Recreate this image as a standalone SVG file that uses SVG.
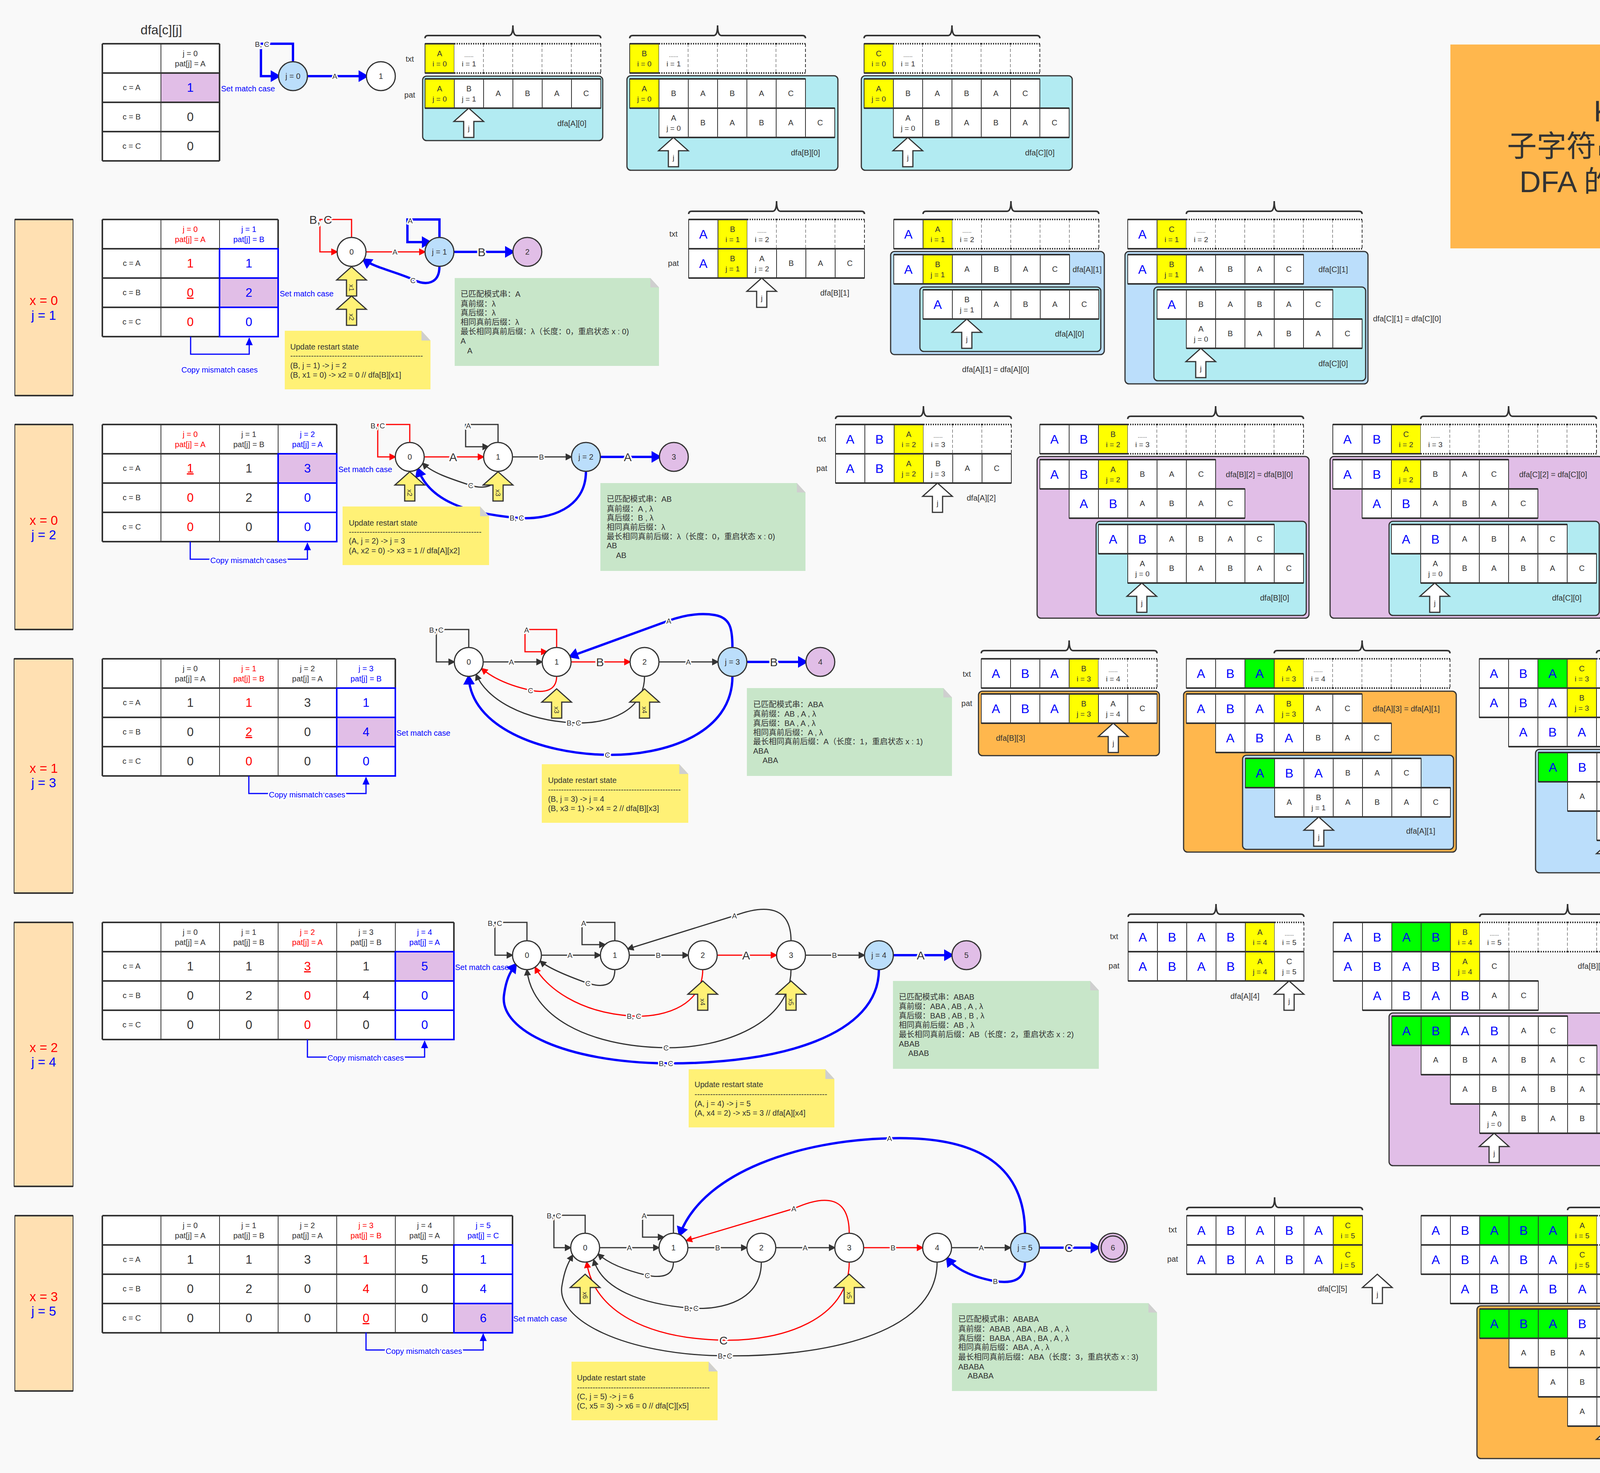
<svg xmlns="http://www.w3.org/2000/svg" xmlns:xlink="http://www.w3.org/1999/xlink" width="5250" height="3772" viewBox="0 0 5250 3772">
<style>
text{font-family:"Liberation Sans",Arial,"Noto Sans CJK SC",sans-serif;fill:#333}
.s{font-size:20px;text-anchor:middle}
.i{font-size:19px;text-anchor:middle}
.dt{font-size:14px;text-anchor:middle}
.b{font-size:32px;text-anchor:middle;fill:#00f}
.v{font-size:31px;text-anchor:middle}
.nl{font-size:20px;text-anchor:middle}
.el{font-size:19px;text-anchor:middle;stroke:#fff;stroke-width:7px;paint-order:stroke;stroke-linejoin:round}
.eL{font-size:30px;text-anchor:middle;stroke:#fff;stroke-width:8px;paint-order:stroke;stroke-linejoin:round}
.bl{font-size:20px;fill:#00f}
.blc{font-size:20px;fill:#00f;text-anchor:middle;stroke:#fff;stroke-width:7px;paint-order:stroke}
.nt{font-size:20px}
.sx{font-size:33px;text-anchor:middle}
.yl{font-size:17px;text-anchor:middle}
.ttl{font-size:76px;text-anchor:middle}
.cd{font-size:19px}
.lt{font-size:20px;text-anchor:middle}
.r{fill:#f00}
.u{fill:#00f}
.nd{fill:#fff;stroke:#333;stroke-width:3}
.nb{fill:#BBDEFB;stroke:#333;stroke-width:3}
.np{fill:#E1BEE7;stroke:#333;stroke-width:3}
.ct{stroke:#333;stroke-width:3}
.tk{fill:none;stroke:#333;stroke-width:4}
.tl{fill:none;stroke:#333;stroke-width:2}
.tb{fill:none;stroke:#00f;stroke-width:4}
.eK{fill:none;stroke:#333;stroke-width:3;marker-end:url(#aK)}
.eR{fill:none;stroke:#f00;stroke-width:3;marker-end:url(#aR)}
.eB{fill:none;stroke:#00f;stroke-width:6;marker-end:url(#aB)}
.cm{fill:none;stroke:#00f;stroke-width:3;marker-end:url(#aS)}
.side{fill:#FFE0B2;stroke:#333;stroke-width:2}
.yn{fill:#FFF176}
.gn{fill:#C8E6C9}
.fold{fill:#cfcfcf}
</style>
<defs>
<marker id="aK" viewBox="0 0 18 18" markerWidth="18" markerHeight="18" refX="15" refY="9" orient="auto" markerUnits="userSpaceOnUse"><path d="M0,0L18,9L0,18z" fill="#333"/></marker>
<marker id="aR" viewBox="0 0 18 18" markerWidth="18" markerHeight="18" refX="15" refY="9" orient="auto" markerUnits="userSpaceOnUse"><path d="M0,0L18,9L0,18z" fill="#f00"/></marker>
<marker id="aB" viewBox="0 0 26 30" markerWidth="26" markerHeight="30" refX="20" refY="15" orient="auto" markerUnits="userSpaceOnUse"><path d="M0,0L26,15L0,30z" fill="#00f"/></marker>
<marker id="aS" viewBox="0 0 20 18" markerWidth="20" markerHeight="18" refX="18" refY="9" orient="auto" markerUnits="userSpaceOnUse"><path d="M0,0L20,9L0,18z" fill="#00f"/></marker>
<g id="S"><rect width="75" height="75" fill="#fff" stroke="#333" stroke-width="2"/><path d="M0,0H75M0,75H75" stroke="#333" stroke-width="4"/></g>
<g id="SY"><rect width="75" height="75" fill="#ff0" stroke="#333" stroke-width="2"/><path d="M0,0H75M0,75H75" stroke="#333" stroke-width="4"/></g>
<g id="SG"><rect width="75" height="75" fill="#0f0" stroke="#333" stroke-width="2"/><path d="M0,0H75M0,75H75" stroke="#333" stroke-width="4"/></g>
<g id="D"><rect width="75" height="75" fill="#fff"/><path d="M0,0H75M0,75H75" stroke="#333" stroke-width="4" stroke-dasharray="3 3"/><path d="M75,0V75" stroke="#333" stroke-width="2" stroke-dasharray="8 5"/></g>
<g id="R6"><rect width="450" height="75" fill="#fff" stroke="#333" stroke-width="2"/><path d="M75,0V75M150,0V75M225,0V75M300,0V75M375,0V75" stroke="#333" stroke-width="2"/><path d="M0,0H450M0,75H450" stroke="#333" stroke-width="4"/></g>
<g id="T1"><text class="s" x="412.5" y="44">C</text></g>
<g id="T2"><text class="s" x="337.5" y="44">A</text><use href="#T1"/></g>
<g id="T3"><text class="s" x="262.5" y="44">B</text><use href="#T2"/></g>
<g id="T4"><text class="s" x="187.5" y="44">A</text><use href="#T3"/></g>
<g id="T5"><text class="s" x="112.5" y="44">B</text><use href="#T4"/></g>
<g id="T6"><text class="s" x="37.5" y="44">A</text><use href="#T5"/></g>
<g id="B1"><text class="b" x="37.5" y="49">A</text></g>
<g id="B2"><use href="#B1"/><text class="b" x="112.5" y="49">B</text></g>
<g id="B3"><use href="#B2"/><text class="b" x="187.5" y="49">A</text></g>
<g id="B4"><use href="#B3"/><text class="b" x="262.5" y="49">B</text></g>
<g id="B5"><use href="#B4"/><text class="b" x="337.5" y="49">A</text></g>
<g id="J0"><text class="s" x="37.5" y="32">A</text><text class="i" x="37.5" y="58">j = 0</text></g>
<path id="UPs" d="M0,0L38,34H13V75H-13V34H-38Z"/>
<g id="UP"><use href="#UPs" fill="#fff" stroke="#333" stroke-width="3"/><text class="i" x="0" y="58">j</text></g>
<g id="YA"><use href="#UPs" fill="#FFF176" stroke="#333" stroke-width="3"/></g>
<path id="BR" d="M0,33Q0,26 8,26H215Q225,26 225,0Q225,26 235,26H442Q450,26 450,33" fill="none" stroke="#333" stroke-width="4"/>
<g id="CL"><text class="s" x="75" y="119">c = A</text><text class="s" x="75" y="194">c = B</text><text class="s" x="75" y="269">c = C</text></g>
</defs>
<rect width="5250" height="3772" fill="#f9f9f9"/>

<!-- ===== Title & code ===== -->
<g id="title">
<path d="M3713,114H4588L4611,139V636H3713Z" fill="#FFB74D"/>
<path class="fold" d="M4588,114V139H4611Z"/>
<text class="ttl" x="4162" y="311">KMP</text>
<text class="ttl" x="4162" y="401">子字符串查找算法</text>
<text class="ttl" x="4162" y="492">DFA 的构造过程</text>
</g>
<g id="code">
<path class="gn" d="M4158,710H4738L4761,734V1088H4158Z"/>
<path class="fold" d="M4738,710V734H4761Z"/>
<text class="cd">
<tspan x="4178" y="746">public KMP(char[] pattern, int R) {</tspan>
<tspan x="4205" y="770">this.R = R;</tspan>
<tspan x="4205" y="794">this.m = pattern.length;</tspan>
<tspan x="4205" y="818">// build DFA from pattern</tspan>
<tspan x="4205" y="842">int m = pattern.length;</tspan>
<tspan x="4205" y="866">dfa = new int[R][m];</tspan>
<tspan x="4205" y="890">dfa[pattern[0]][0] = 1;</tspan>
<tspan x="4205" y="914">for (int x = 0, j = 1; j &lt; m; j++) {</tspan>
<tspan x="4232" y="938">for (int c = 0; c &lt; R; c++)</tspan>
<tspan x="4259" y="962">dfa[c][j] = dfa[c][x];</tspan><tspan x="4468" y="962">// Copy mismatch cases.</tspan>
<tspan x="4232" y="986">dfa[pattern[j]][j] = j+1;</tspan><tspan x="4468" y="986">// Set match case.</tspan>
<tspan x="4232" y="1010">x = dfa[pattern[j]][x];</tspan><tspan x="4468" y="1010">// Update restart state.</tspan>
<tspan x="4205" y="1034">}</tspan>
<tspan x="4178" y="1058">}</tspan>
</text>
</g>

<!-- ===== ROW 0 ===== -->
<text x="413" y="88" style="font-size:33px;text-anchor:middle">dfa[c][j]</text>
<g id="r0-table" transform="translate(262,112)">
<rect width="300" height="300" fill="#fff"/>
<rect x="150" y="75" width="150" height="75" fill="#E1BEE7"/>
<path class="tl" d="M150,0V300"/>
<path class="tk" d="M0,0H300M0,75H300M0,150H300M0,225H300M0,300H300M0,0V300M300,0V300"/>
<text class="s" x="225" y="32">j = 0</text><text class="s" x="225" y="58">pat[j] = A</text>
<use href="#CL"/>
<text class="v u" x="225" y="123">1</text><text class="v" x="225" y="198">0</text><text class="v" x="225" y="273">0</text>
</g>
<text class="bl" x="566" y="234">Set match case</text>
<g id="r0-edges">
<path class="eB" d="M787,195H938"/>
<path class="eB" d="M750,158V112H668V195H713"/>
<text class="el" x="857" y="202">A</text>
<text class="el" x="671" y="120">B, C</text>
</g>
<g id="r0-n0"><circle class="nb" cx="750" cy="195" r="37"/><text class="nl" x="750" y="202">j = 0</text></g>
<g id="r0-n1"><circle class="nd" cx="975" cy="195" r="37"/><text class="nl" x="975" y="202">1</text></g>

<g id="r0-g1">
<use href="#BR" x="1088" y="65"/>
<text class="lt" x="1049" y="158">txt</text><text class="lt" x="1049" y="250">pat</text>
<g transform="translate(1088,112)">
<use href="#SY"/><use href="#D" x="75"/><use href="#D" x="150"/><use href="#D" x="225"/><use href="#D" x="300"/><use href="#D" x="375"/>
<text class="s" x="37.5" y="32">A</text><text class="i" x="37.5" y="58">i = 0</text>
<text class="dt" x="112.5" y="34">......</text><text class="i" x="112.5" y="58">i = 1</text>
</g>
<rect class="ct" x="1082" y="195" width="461" height="165" rx="10" fill="#B2EBF2"/>
<g transform="translate(1088,202)"><use href="#R6"/><use href="#SY"/><use href="#J0"/><text class="s" x="112.5" y="32">B</text><text class="i" x="112.5" y="58">j = 1</text><use href="#T4"/></g>
<use href="#UP" x="1200" y="277"/>
<text class="lt" x="1464" y="323">dfa[A][0]</text>
</g>
<g id="r0-g2">
<use href="#BR" x="1612" y="65"/>
<g transform="translate(1612,112)">
<use href="#SY"/><use href="#D" x="75"/><use href="#D" x="150"/><use href="#D" x="225"/><use href="#D" x="300"/><use href="#D" x="375"/>
<text class="s" x="37.5" y="32">B</text><text class="i" x="37.5" y="58">i = 0</text>
<text class="dt" x="112.5" y="34">......</text><text class="i" x="112.5" y="58">i = 1</text>
</g>
<rect class="ct" x="1605" y="194" width="540" height="242" rx="10" fill="#B2EBF2"/>
<g transform="translate(1612,202)"><use href="#R6"/><use href="#SY"/><use href="#J0"/><use href="#T5"/></g>
<g transform="translate(1687,277)"><use href="#R6"/><use href="#J0"/><use href="#T5"/></g>
<use href="#UP" x="1724" y="352"/>
<text class="lt" x="2062" y="398">dfa[B][0]</text>
</g>
<g id="r0-g3">
<use href="#BR" x="2212" y="65"/>
<g transform="translate(2212,112)">
<use href="#SY"/><use href="#D" x="75"/><use href="#D" x="150"/><use href="#D" x="225"/><use href="#D" x="300"/><use href="#D" x="375"/>
<text class="s" x="37.5" y="32">C</text><text class="i" x="37.5" y="58">i = 0</text>
<text class="dt" x="112.5" y="34">......</text><text class="i" x="112.5" y="58">i = 1</text>
</g>
<rect class="ct" x="2205" y="194" width="540" height="242" rx="10" fill="#B2EBF2"/>
<g transform="translate(2212,202)"><use href="#R6"/><use href="#SY"/><use href="#J0"/><use href="#T5"/></g>
<g transform="translate(2287,277)"><use href="#R6"/><use href="#J0"/><use href="#T5"/></g>
<use href="#UP" x="2324" y="352"/>
<text class="lt" x="2662" y="398">dfa[C][0]</text>
</g>

<!-- ===== ROW 1 ===== -->
<g id="r1-side"><rect class="side" x="38" y="562" width="149" height="451"/><path class="tk" d="M38,562H187M38,1013H187"/><text class="sx r" x="112" y="781">x = 0</text><text class="sx u" x="112" y="819">j = 1</text></g>
<g id="r1-table" transform="translate(262,562)">
<rect width="450" height="300" fill="#fff"/>
<rect x="300" y="150" width="150" height="75" fill="#E1BEE7"/>
<path class="tl" d="M150,0V300M300,0V300"/>
<path class="tk" d="M0,0H450M0,75H450M0,150H450M0,225H450M0,300H450M0,0V300M450,0V300"/>
<path class="tb" d="M300,75H450V300H300ZM300,150H450M300,225H450"/>
<use href="#CL"/>
<text class="s r" x="225" y="32">j = 0</text><text class="s r" x="225" y="58">pat[j] = A</text>
<text class="s u" x="375" y="32">j = 1</text><text class="s u" x="375" y="58">pat[j] = B</text>
<text class="v r" x="225" y="123">1</text><text class="v u" x="375" y="123">1</text>
<text class="v r" x="225" y="198" text-decoration="underline">0</text><text class="v u" x="375" y="198">2</text>
<text class="v r" x="225" y="273">0</text><text class="v u" x="375" y="273">0</text>
</g>
<text class="bl" x="716" y="759">Set match case</text>
<path class="cm" d="M488,862V907H638V866"/>
<text class="blc" x="562" y="954">Copy mismatch cases</text>
<g id="r1-edges">
<path class="eR" d="M937,645H1088"/>
<path class="eB" d="M1162,645H1313"/>
<path class="eR" d="M900,608V562H819V645H863"/>
<path class="eB" d="M1125,608V562H1043V620H1100"/>
<path class="eB" d="M1125,682C1125,728 1090,732 1058,716C1010,695 960,685 931,665"/>
<text class="el" x="1011" y="652">A</text>
<text class="eL" x="1233" y="656">B</text>
<text class="eL" x="821" y="573">B, C</text>
<text class="el" x="1050" y="572">A</text>
<text class="el" x="1057" y="725">C</text>
</g>
<g id="r1-n0"><circle class="nd" cx="900" cy="645" r="37"/><text class="nl" x="900" y="652">0</text></g>
<g id="r1-n1"><circle class="nb" cx="1125" cy="645" r="37"/><text class="nl" x="1125" y="652">j = 1</text></g>
<g id="r1-n2"><circle class="np" cx="1350" cy="645" r="37"/><text class="nl" x="1350" y="652">2</text></g>
<g id="r1-x"><use href="#YA" x="900" y="683"/><text class="yl" transform="translate(894,737) rotate(90)">x1</text><use href="#YA" x="900" y="758"/><text class="yl" transform="translate(894,812) rotate(90)">x2</text></g>
<g id="r1-note1"><path class="yn" d="M729,847H1079L1102,872V997H729Z"/><path class="fold" d="M1079,847V872H1102Z"/>
<text class="nt" x="743" y="895">Update restart state</text><text class="nt" x="743" y="918">---------------------------------------------------</text><text class="nt" x="743" y="943">(B, j = 1) -&gt; j = 2</text><text class="nt" x="743" y="967">(B, x1 = 0) -&gt; x2 = 0 // dfa[B][x1]</text></g>
<g id="r1-note2"><path class="gn" d="M1164,712H1665L1687,736V937H1164Z"/><path class="fold" d="M1665,712V736H1687Z"/>
<text class="nt" x="1179" y="760">已匹配模式串：A</text><text class="nt" x="1179" y="785">真前缀：λ</text><text class="nt" x="1179" y="808">真后缀：λ</text><text class="nt" x="1179" y="832">相同真前后缀：λ</text><text class="nt" x="1179" y="856">最长相同真前后缀：λ（长度：0，重启状态 x : 0)</text><text class="nt" x="1179" y="880">A</text><text class="nt" x="1196" y="905">A</text></g>

<g id="r1-g1">
<use href="#BR" x="1763" y="515"/>
<text class="lt" x="1724" y="606">txt</text><text class="lt" x="1724" y="681">pat</text>
<g transform="translate(1763,562)">
<use href="#S"/><use href="#SY" x="75"/><use href="#D" x="150"/><use href="#D" x="225"/><use href="#D" x="300"/><use href="#D" x="375"/>
<use href="#B1"/><text class="s" x="112.5" y="32">B</text><text class="i" x="112.5" y="58">i = 1</text>
<text class="dt" x="187.5" y="34">......</text><text class="i" x="187.5" y="58">i = 2</text>
</g>
<g transform="translate(1763,637)"><use href="#R6"/><use href="#SY" x="75"/><use href="#B1"/><text class="s" x="112.5" y="32">B</text><text class="i" x="112.5" y="58">j = 1</text><text class="s" x="187.5" y="32">A</text><text class="i" x="187.5" y="58">j = 2</text><use href="#T3"/></g>
<use href="#UP" x="1950" y="712"/>
<text class="lt" x="2137" y="757">dfa[B][1]</text>
</g>
<g id="r1-g2">
<use href="#BR" x="2363" y="515"/>
<g transform="translate(2288,562)">
<use href="#S"/><use href="#SY" x="75"/><use href="#D" x="150"/><use href="#D" x="225"/><use href="#D" x="300"/><use href="#D" x="375"/><use href="#D" x="450"/>
<use href="#B1"/><text class="s" x="112.5" y="32">A</text><text class="i" x="112.5" y="58">i = 1</text>
<text class="dt" x="187.5" y="34">......</text><text class="i" x="187.5" y="58">i = 2</text>
</g>
<rect class="ct" x="2280" y="644" width="547" height="264" rx="10" fill="#BBDEFB"/>
<g transform="translate(2288,652)"><use href="#R6"/><use href="#SY" x="75"/><use href="#B1"/><text class="s" x="112.5" y="32">B</text><text class="i" x="112.5" y="58">j = 1</text><use href="#T4"/></g>
<text class="lt" x="2783" y="697">dfa[A][1]</text>
<rect class="ct" x="2355" y="735" width="463" height="165" rx="10" fill="#B2EBF2"/>
<g transform="translate(2363,742)"><use href="#R6"/><use href="#B1"/><text class="s" x="112.5" y="32">B</text><text class="i" x="112.5" y="58">j = 1</text><use href="#T4"/></g>
<use href="#UP" x="2475" y="817"/>
<text class="lt" x="2738" y="862">dfa[A][0]</text>
<text class="lt" x="2549" y="953">dfa[A][1] = dfa[A][0]</text>
</g>
<g id="r1-g3">
<use href="#BR" x="3037" y="515"/>
<g transform="translate(2887,562)">
<use href="#S"/><use href="#SY" x="75"/><use href="#D" x="150"/><use href="#D" x="225"/><use href="#D" x="300"/><use href="#D" x="375"/><use href="#D" x="450"/><use href="#D" x="525"/>
<use href="#B1"/><text class="s" x="112.5" y="32">C</text><text class="i" x="112.5" y="58">i = 1</text>
<text class="dt" x="187.5" y="34">......</text><text class="i" x="187.5" y="58">i = 2</text>
</g>
<rect class="ct" x="2880" y="644" width="622" height="339" rx="10" fill="#BBDEFB"/>
<g transform="translate(2887,652)"><use href="#R6"/><use href="#SY" x="75"/><use href="#B1"/><text class="s" x="112.5" y="32">B</text><text class="i" x="112.5" y="58">j = 1</text><use href="#T4"/></g>
<text class="lt" x="3413" y="697">dfa[C][1]</text>
<rect class="ct" x="2954" y="735" width="542" height="240" rx="10" fill="#B2EBF2"/>
<g transform="translate(2962,742)"><use href="#R6"/><use href="#B1"/><use href="#T5"/></g>
<g transform="translate(3037,817)"><use href="#R6"/><use href="#J0"/><use href="#T5"/></g>
<use href="#UP" x="3074" y="892"/>
<text class="lt" x="3413" y="938">dfa[C][0]</text>
<text x="3515" y="823" style="font-size:20px">dfa[C][1] = dfa[C][0]</text>
</g>

<!-- ===== ROW 2 ===== -->
<g id="r2-side"><rect class="side" x="38" y="1087" width="149" height="525"/><path class="tk" d="M38,1087H187M38,1612H187"/><text class="sx r" x="112" y="1344">x = 0</text><text class="sx u" x="112" y="1381">j = 2</text></g>
<g id="r2-table" transform="translate(262,1087)">
<rect width="600" height="300" fill="#fff"/>
<rect x="450" y="75" width="150" height="75" fill="#E1BEE7"/>
<path class="tl" d="M150,0V300M300,0V300M450,0V300"/>
<path class="tk" d="M0,0H600M0,75H600M0,150H600M0,225H600M0,300H600M0,0V300M600,0V300"/>
<path class="tb" d="M450,75H600V300H450ZM450,150H600M450,225H600"/>
<use href="#CL"/>
<text class="s r" x="225" y="32">j = 0</text><text class="s r" x="225" y="58">pat[j] = A</text>
<text class="s" x="375" y="32">j = 1</text><text class="s" x="375" y="58">pat[j] = B</text>
<text class="s u" x="525" y="32">j = 2</text><text class="s u" x="525" y="58">pat[j] = A</text>
<text class="v r" x="225" y="123" text-decoration="underline">1</text><text class="v" x="375" y="123">1</text><text class="v u" x="525" y="123">3</text>
<text class="v r" x="225" y="198">0</text><text class="v" x="375" y="198">2</text><text class="v u" x="525" y="198">0</text>
<text class="v r" x="225" y="273">0</text><text class="v" x="375" y="273">0</text><text class="v u" x="525" y="273">0</text>
</g>
<text class="bl" x="866" y="1209">Set match case</text>
<path class="cm" d="M487,1387V1432H787V1391"/>
<text class="blc" x="636" y="1442">Copy mismatch cases</text>
<g id="r2-edges">
<path class="eR" d="M1086,1170H1238"/>
<path class="eK" d="M1312,1170H1463"/>
<path class="eB" d="M1537,1170H1688"/>
<path class="eR" d="M1049,1133V1087H967V1170H1012"/>
<path class="eK" d="M1275,1133V1087H1192V1144H1250"/>
<path class="eK" d="M1275,1207C1275,1250 1235,1252 1205,1243C1150,1225 1105,1210 1082,1186"/>
<path class="eB" d="M1500,1207C1500,1300 1410,1333 1323,1326C1200,1315 1100,1285 1070,1201"/>
<text class="eL" x="1160" y="1181">A</text>
<text class="el" x="1386" y="1177">B</text>
<text class="eL" x="1607" y="1181">A</text>
<text class="el" x="967" y="1097">B, C</text>
<text class="el" x="1199" y="1097">A</text>
<text class="el" x="1205" y="1250">C</text>
<text class="el" x="1323" y="1333">B, C</text>
</g>
<g id="r2-n0"><circle class="nd" cx="1049" cy="1170" r="37"/><text class="nl" x="1049" y="1177">0</text></g>
<g id="r2-n1"><circle class="nd" cx="1275" cy="1170" r="37"/><text class="nl" x="1275" y="1177">1</text></g>
<g id="r2-n2"><circle class="nb" cx="1500" cy="1170" r="37"/><text class="nl" x="1500" y="1177">j = 2</text></g>
<g id="r2-n3"><circle class="np" cx="1725" cy="1170" r="37"/><text class="nl" x="1725" y="1177">3</text></g>
<g id="r2-x"><use href="#YA" x="1049" y="1208"/><text class="yl" transform="translate(1043,1262) rotate(90)">x2</text><use href="#YA" x="1275" y="1208"/><text class="yl" transform="translate(1269,1262) rotate(90)">x3</text></g>
<g id="r2-note1"><path class="yn" d="M877,1297H1229L1252,1322V1447H877Z"/><path class="fold" d="M1229,1297V1322H1252Z"/>
<text class="nt" x="893" y="1346">Update restart state</text><text class="nt" x="893" y="1369">---------------------------------------------------</text><text class="nt" x="893" y="1392">(A, j = 2) -&gt; j = 3</text><text class="nt" x="893" y="1417">(A, x2 = 0) -&gt; x3 = 1 // dfa[A][x2]</text></g>
<g id="r2-note2"><path class="gn" d="M1537,1237H2040L2062,1261V1462H1537Z"/><path class="fold" d="M2040,1237V1261H2062Z"/>
<text class="nt" x="1553" y="1285">已匹配模式串：AB</text><text class="nt" x="1553" y="1310">真前缀：A , λ</text><text class="nt" x="1553" y="1333">真后缀：B , λ</text><text class="nt" x="1553" y="1357">相同真前后缀：λ</text><text class="nt" x="1553" y="1381">最长相同真前后缀：λ（长度：0，重启状态 x : 0)</text><text class="nt" x="1553" y="1404">AB</text><text class="nt" x="1577" y="1429">AB</text></g>

<g id="r2-g1">
<use href="#BR" x="2139" y="1040"/>
<text class="lt" x="2104" y="1131">txt</text><text class="lt" x="2104" y="1206">pat</text>
<g transform="translate(2139,1087)">
<use href="#S"/><use href="#S" x="75"/><use href="#SY" x="150"/><use href="#D" x="225"/><use href="#D" x="300"/><use href="#D" x="375"/>
<use href="#B2"/><text class="s" x="187.5" y="32">A</text><text class="i" x="187.5" y="58">i = 2</text>
<text class="dt" x="262.5" y="34">......</text><text class="i" x="262.5" y="58">i = 3</text>
</g>
<g transform="translate(2139,1162)"><use href="#R6"/><use href="#SY" x="150"/><use href="#B2"/><text class="s" x="187.5" y="32">A</text><text class="i" x="187.5" y="58">j = 2</text><text class="s" x="262.5" y="32">B</text><text class="i" x="262.5" y="58">j = 3</text><use href="#T2"/></g>
<use href="#UP" x="2400" y="1237"/>
<text class="lt" x="2512" y="1282">dfa[A][2]</text>
</g>
<g id="r2-g2">
<use href="#BR" x="2887" y="1040"/>
<g transform="translate(2662,1087)">
<use href="#S"/><use href="#S" x="75"/><use href="#SY" x="150"/><use href="#D" x="225"/><use href="#D" x="300"/><use href="#D" x="375"/><use href="#D" x="450"/><use href="#D" x="525"/><use href="#D" x="600"/>
<use href="#B2"/><text class="s" x="187.5" y="32">B</text><text class="i" x="187.5" y="58">i = 2</text>
<text class="dt" x="262.5" y="34">......</text><text class="i" x="262.5" y="58">i = 3</text>
</g>
<rect class="ct" x="2655" y="1169" width="696" height="414" rx="10" fill="#E1BEE7"/>
<g transform="translate(2662,1177)"><use href="#R6"/><use href="#SY" x="150"/><use href="#B2"/><text class="s" x="187.5" y="32">A</text><text class="i" x="187.5" y="58">j = 2</text><use href="#T3"/></g>
<text class="lt" x="3224" y="1222">dfa[B][2] = dfa[B][0]</text>
<g transform="translate(2737,1252)"><use href="#R6"/><use href="#B2"/><use href="#T4"/></g>
<rect class="ct" x="2806" y="1335" width="538" height="241" rx="10" fill="#B2EBF2"/>
<g transform="translate(2812,1343)"><use href="#R6"/><use href="#B2"/><use href="#T4"/></g>
<g transform="translate(2887,1418)"><use href="#R6"/><use href="#J0"/><use href="#T5"/></g>
<use href="#UP" x="2923" y="1493"/>
<text class="lt" x="3263" y="1538">dfa[B][0]</text>
</g>
<g id="r2-g3">
<use href="#BR" x="3637" y="1040"/>
<g transform="translate(3412,1087)">
<use href="#S"/><use href="#S" x="75"/><use href="#SY" x="150"/><use href="#D" x="225"/><use href="#D" x="300"/><use href="#D" x="375"/><use href="#D" x="450"/><use href="#D" x="525"/><use href="#D" x="600"/>
<use href="#B2"/><text class="s" x="187.5" y="32">C</text><text class="i" x="187.5" y="58">i = 2</text>
<text class="dt" x="262.5" y="34">......</text><text class="i" x="262.5" y="58">i = 3</text>
</g>
<rect class="ct" x="3405" y="1169" width="698" height="414" rx="10" fill="#E1BEE7"/>
<g transform="translate(3412,1177)"><use href="#R6"/><use href="#SY" x="150"/><use href="#B2"/><text class="s" x="187.5" y="32">A</text><text class="i" x="187.5" y="58">j = 2</text><use href="#T3"/></g>
<text class="lt" x="3976" y="1222">dfa[C][2] = dfa[C][0]</text>
<g transform="translate(3487,1252)"><use href="#R6"/><use href="#B2"/><use href="#T4"/></g>
<rect class="ct" x="3556" y="1335" width="538" height="241" rx="10" fill="#B2EBF2"/>
<g transform="translate(3562,1343)"><use href="#R6"/><use href="#B2"/><use href="#T4"/></g>
<g transform="translate(3637,1418)"><use href="#R6"/><use href="#J0"/><use href="#T5"/></g>
<use href="#UP" x="3673" y="1493"/>
<text class="lt" x="4011" y="1538">dfa[C][0]</text>
</g>

<!-- ===== ROW 3 ===== -->
<g id="r3-side"><rect class="side" x="36" y="1687" width="151" height="600"/><path class="tk" d="M36,1687H187M36,2287H187"/><text class="sx r" x="112" y="1979">x = 1</text><text class="sx u" x="112" y="2016">j = 3</text></g>
<g id="r3-table" transform="translate(262,1687)">
<rect width="750" height="300" fill="#fff"/>
<rect x="600" y="150" width="150" height="75" fill="#E1BEE7"/>
<path class="tl" d="M150,0V300M300,0V300M450,0V300M600,0V300"/>
<path class="tk" d="M0,0H750M0,75H750M0,150H750M0,225H750M0,300H750M0,0V300M750,0V300"/>
<path class="tb" d="M600,75H750V300H600ZM600,150H750M600,225H750"/>
<use href="#CL"/>
<text class="s" x="225" y="32">j = 0</text><text class="s" x="225" y="58">pat[j] = A</text>
<text class="s r" x="375" y="32">j = 1</text><text class="s r" x="375" y="58">pat[j] = B</text>
<text class="s" x="525" y="32">j = 2</text><text class="s" x="525" y="58">pat[j] = A</text>
<text class="s u" x="675" y="32">j = 3</text><text class="s u" x="675" y="58">pat[j] = B</text>
<text class="v" x="225" y="123">1</text><text class="v r" x="375" y="123">1</text><text class="v" x="525" y="123">3</text><text class="v u" x="675" y="123">1</text>
<text class="v" x="225" y="198">0</text><text class="v r" x="375" y="198" text-decoration="underline">2</text><text class="v" x="525" y="198">0</text><text class="v u" x="675" y="198">4</text>
<text class="v" x="225" y="273">0</text><text class="v r" x="375" y="273">0</text><text class="v" x="525" y="273">0</text><text class="v u" x="675" y="273">0</text>
</g>
<text class="bl" x="1015" y="1884">Set match case</text>
<path class="cm" d="M637,1987V2032H937V1991"/>
<text class="blc" x="786" y="2042">Copy mismatch cases</text>
<g id="r3-edges">
<path class="eK" d="M1237,1695H1388"/>
<path class="eR" d="M1462,1695H1613"/>
<path class="eK" d="M1687,1695H1838"/>
<path class="eB" d="M1912,1695H2063"/>
<path class="eK" d="M1200,1658V1612H1117V1695H1163"/>
<path class="eR" d="M1425,1658V1612H1344V1669H1400"/>
<path class="eB" d="M1875,1658C1875,1610 1870,1582 1830,1575C1800,1570 1760,1572 1710,1590L1460,1681"/>
<path class="eR" d="M1425,1732C1425,1768 1395,1775 1360,1768C1300,1755 1260,1735 1233,1712"/>
<path class="eK" d="M1650,1732C1650,1820 1560,1855 1469,1851C1340,1845 1245,1790 1219,1727"/>
<path class="eB" d="M1875,1732C1875,1880 1700,1935 1555,1933C1380,1930 1205,1860 1200,1733"/>
<text class="el" x="1309" y="1702">A</text>
<text class="eL" x="1536" y="1706">B</text>
<text class="el" x="1762" y="1702">A</text>
<text class="eL" x="1981" y="1706">B</text>
<text class="el" x="1117" y="1620">B, C</text>
<text class="el" x="1348" y="1620">A</text>
<text class="el" x="1712" y="1597">A</text>
<text class="el" x="1358" y="1775">C</text>
<text class="el" x="1469" y="1858">B, C</text>
<text class="el" x="1555" y="1940">C</text>
</g>
<g id="r3-n0"><circle class="nd" cx="1200" cy="1695" r="37"/><text class="nl" x="1200" y="1702">0</text></g>
<g id="r3-n1"><circle class="nd" cx="1425" cy="1695" r="37"/><text class="nl" x="1425" y="1702">1</text></g>
<g id="r3-n2"><circle class="nd" cx="1650" cy="1695" r="37"/><text class="nl" x="1650" y="1702">2</text></g>
<g id="r3-n3"><circle class="nb" cx="1875" cy="1695" r="37"/><text class="nl" x="1875" y="1702">j = 3</text></g>
<g id="r3-n4"><circle class="np" cx="2100" cy="1695" r="37"/><text class="nl" x="2100" y="1702">4</text></g>
<g id="r3-x"><use href="#YA" x="1425" y="1764"/><text class="yl" transform="translate(1419,1818) rotate(90)">x3</text><use href="#YA" x="1650" y="1764"/><text class="yl" transform="translate(1644,1818) rotate(90)">x4</text></g>
<g id="r3-note1"><path class="yn" d="M1387,1957H1739L1762,1982V2107H1387Z"/><path class="fold" d="M1739,1957V1982H1762Z"/>
<text class="nt" x="1403" y="2005">Update restart state</text><text class="nt" x="1403" y="2029">---------------------------------------------------</text><text class="nt" x="1403" y="2053">(B, j = 3) -&gt; j = 4</text><text class="nt" x="1403" y="2077">(B, x3 = 1) -&gt; x4 = 2 // dfa[B][x3]</text></g>
<g id="r3-note2"><path class="gn" d="M1912,1762H2415L2437,1786V1987H1912Z"/><path class="fold" d="M2415,1762V1786H2437Z"/>
<text class="nt" x="1928" y="1811">已匹配模式串：ABA</text><text class="nt" x="1928" y="1835">真前缀：AB , A , λ</text><text class="nt" x="1928" y="1859">真后缀：BA , A , λ</text><text class="nt" x="1928" y="1883">相同真前后缀：A , λ</text><text class="nt" x="1928" y="1906">最长相同真前后缀：A（长度：1，重启状态 x : 1)</text><text class="nt" x="1928" y="1930">ABA</text><text class="nt" x="1952" y="1954">ABA</text></g>

<g id="r3-g1">
<use href="#BR" x="2512" y="1640"/>
<text class="lt" x="2475" y="1733">txt</text><text class="lt" x="2475" y="1808">pat</text>
<g transform="translate(2512,1687)">
<use href="#S"/><use href="#S" x="75"/><use href="#S" x="150"/><use href="#SY" x="225"/><use href="#D" x="300"/><use href="#D" x="375"/>
<use href="#B3"/><text class="s" x="262.5" y="32">B</text><text class="i" x="262.5" y="58">i = 3</text>
<text class="dt" x="337.5" y="34">......</text><text class="i" x="337.5" y="58">i = 4</text>
</g>
<rect class="ct" x="2505" y="1770" width="463" height="165" rx="10" fill="#FFB74D"/>
<g transform="translate(2512,1777)"><use href="#R6"/><use href="#SY" x="225"/><use href="#B3"/><text class="s" x="262.5" y="32">B</text><text class="i" x="262.5" y="58">j = 3</text><text class="s" x="337.5" y="32">A</text><text class="i" x="337.5" y="58">j = 4</text><use href="#T1"/></g>
<text class="lt" x="2587" y="1897">dfa[B][3]</text>
<use href="#UP" x="2850" y="1852"/>
</g>
<g id="r3-g2">
<use href="#BR" x="3262" y="1640"/>
<g transform="translate(3037,1687)">
<use href="#S"/><use href="#S" x="75"/><use href="#SG" x="150"/><use href="#SY" x="225"/><use href="#D" x="300"/><use href="#D" x="375"/><use href="#D" x="450"/><use href="#D" x="525"/><use href="#D" x="600"/>
<use href="#B3"/><text class="s" x="262.5" y="32">A</text><text class="i" x="262.5" y="58">i = 3</text>
<text class="dt" x="337.5" y="34">......</text><text class="i" x="337.5" y="58">i = 4</text>
</g>
<rect class="ct" x="3030" y="1770" width="698" height="412" rx="10" fill="#FFB74D"/>
<g transform="translate(3037,1777)"><use href="#R6"/><use href="#SY" x="225"/><use href="#B3"/><text class="s" x="262.5" y="32">B</text><text class="i" x="262.5" y="58">j = 3</text><use href="#T2"/></g>
<text class="lt" x="3600" y="1822">dfa[A][3] = dfa[A][1]</text>
<g transform="translate(3112,1852)"><use href="#R6"/><use href="#B3"/><use href="#T3"/></g>
<rect class="ct" x="3181" y="1934" width="540" height="241" rx="10" fill="#BBDEFB"/>
<g transform="translate(3188,1942)"><use href="#R6"/><use href="#SG"/><use href="#B3"/><use href="#T3"/></g>
<g transform="translate(3263,2017)"><use href="#R6"/><text class="s" x="37.5" y="44">A</text><text class="s" x="112.5" y="32">B</text><text class="i" x="112.5" y="58">j = 1</text><use href="#T4"/></g>
<use href="#UP" x="3376" y="2092"/>
<text class="lt" x="3637" y="2135">dfa[A][1]</text>
</g>
<g id="r3-g3">
<use href="#BR" x="4087" y="1640"/>
<g transform="translate(3787,1687)">
<use href="#S"/><use href="#S" x="75"/><use href="#SG" x="150"/><use href="#SY" x="225"/><use href="#D" x="300"/><use href="#D" x="375"/><use href="#D" x="450"/><use href="#D" x="525"/><use href="#D" x="600"/><use href="#D" x="675"/>
<use href="#B3"/><text class="s" x="262.5" y="32">C</text><text class="i" x="262.5" y="58">i = 3</text>
<text class="dt" x="337.5" y="34">......</text><text class="i" x="337.5" y="58">i = 4</text>
</g>
<g transform="translate(3787,1762)"><use href="#R6"/><use href="#SY" x="225"/><use href="#B3"/><text class="s" x="262.5" y="32">B</text><text class="i" x="262.5" y="58">j = 3</text><use href="#T2"/></g>
<text class="lt" x="4425" y="1807">dfa[C][3] = dfa[C][1]</text>
<g transform="translate(3862,1837)"><use href="#R6"/><use href="#B3"/><use href="#T3"/></g>
<rect class="ct" x="3931" y="1919" width="614" height="316" rx="10" fill="#BBDEFB"/>
<g transform="translate(3938,1927)"><use href="#R6"/><use href="#SG"/><use href="#B3"/><use href="#T3"/></g>
<text class="lt" x="4462" y="1972">dfa[C][1]</text>
<g transform="translate(4013,2002)"><use href="#R6"/><use href="#T6"/></g>
<g transform="translate(4088,2077)"><use href="#R6"/><use href="#J0"/><use href="#T5"/></g>
<use href="#UP" x="4125" y="2152"/>
</g>

<!-- ===== ROW 4 ===== -->
<g id="r4-side"><rect class="side" x="36" y="2362" width="151" height="676"/><path class="tk" d="M36,2362H187M36,3038H187"/><text class="sx r" x="112" y="2694">x = 2</text><text class="sx u" x="112" y="2731">j = 4</text></g>
<g id="r4-table" transform="translate(262,2362)">
<rect width="900" height="300" fill="#fff"/>
<rect x="750" y="75" width="150" height="75" fill="#E1BEE7"/>
<path class="tl" d="M150,0V300M300,0V300M450,0V300M600,0V300M750,0V300"/>
<path class="tk" d="M0,0H900M0,75H900M0,150H900M0,225H900M0,300H900M0,0V300M900,0V300"/>
<path class="tb" d="M750,75H900V300H750ZM750,150H900M750,225H900"/>
<use href="#CL"/>
<text class="s" x="225" y="32">j = 0</text><text class="s" x="225" y="58">pat[j] = A</text>
<text class="s" x="375" y="32">j = 1</text><text class="s" x="375" y="58">pat[j] = B</text>
<text class="s r" x="525" y="32">j = 2</text><text class="s r" x="525" y="58">pat[j] = A</text>
<text class="s" x="675" y="32">j = 3</text><text class="s" x="675" y="58">pat[j] = B</text>
<text class="s u" x="825" y="32">j = 4</text><text class="s u" x="825" y="58">pat[j] = A</text>
<text class="v" x="225" y="123">1</text><text class="v" x="375" y="123">1</text><text class="v r" x="525" y="123" text-decoration="underline">3</text><text class="v" x="675" y="123">1</text><text class="v u" x="825" y="123">5</text>
<text class="v" x="225" y="198">0</text><text class="v" x="375" y="198">2</text><text class="v r" x="525" y="198">0</text><text class="v" x="675" y="198">4</text><text class="v u" x="825" y="198">0</text>
<text class="v" x="225" y="273">0</text><text class="v" x="375" y="273">0</text><text class="v r" x="525" y="273">0</text><text class="v" x="675" y="273">0</text><text class="v u" x="825" y="273">0</text>
</g>
<text class="bl" x="1165" y="2484">Set match case</text>
<path class="cm" d="M787,2662V2707H1087V2666"/>
<text class="blc" x="936" y="2716">Copy mismatch cases</text>
<g id="r4-edges">
<path class="eK" d="M1386,2446H1537"/>
<path class="eK" d="M1611,2446H1762"/>
<path class="eR" d="M1836,2446H1988"/>
<path class="eK" d="M2062,2446H2213"/>
<path class="eB" d="M2287,2446H2437"/>
<path class="eK" d="M1349,2409V2362H1267V2446H1312"/>
<path class="eK" d="M1574,2409V2362H1490V2419H1549"/>
<path class="eK" d="M2025,2409C2025,2320 1960,2315 1880,2345L1607,2430"/>
<path class="eK" d="M1574,2483C1574,2530 1535,2527 1505,2518C1460,2502 1405,2480 1383,2461"/>
<path class="eR" d="M1799,2483C1799,2570 1710,2605 1623,2602C1480,2595 1395,2525 1370,2477"/>
<path class="eK" d="M2025,2483C2025,2620 1850,2685 1705,2683C1500,2680 1360,2600 1349,2483"/>
<path class="eB" d="M2250,2483C2250,2650 2000,2725 1705,2723C1450,2720 1280,2640 1290,2550C1295,2510 1305,2490 1320,2470"/>
<text class="el" x="1459" y="2453">A</text>
<text class="el" x="1685" y="2453">B</text>
<text class="eL" x="1910" y="2457">A</text>
<text class="el" x="2136" y="2453">B</text>
<text class="eL" x="2357" y="2457">A</text>
<text class="el" x="1267" y="2371">B, C</text>
<text class="el" x="1494" y="2371">A</text>
<text class="el" x="1880" y="2352">A</text>
<text class="el" x="1505" y="2525">C</text>
<text class="el" x="1623" y="2609">B, C</text>
<text class="el" x="1705" y="2690">C</text>
<text class="el" x="1705" y="2730">B, C</text>
</g>
<g id="r4-n0"><circle class="nd" cx="1349" cy="2446" r="37"/><text class="nl" x="1349" y="2453">0</text></g>
<g id="r4-n1"><circle class="nd" cx="1574" cy="2446" r="37"/><text class="nl" x="1574" y="2453">1</text></g>
<g id="r4-n2"><circle class="nd" cx="1799" cy="2446" r="37"/><text class="nl" x="1799" y="2453">2</text></g>
<g id="r4-n3"><circle class="nd" cx="2025" cy="2446" r="37"/><text class="nl" x="2025" y="2453">3</text></g>
<g id="r4-n4"><circle class="nb" cx="2250" cy="2446" r="37"/><text class="nl" x="2250" y="2453">j = 4</text></g>
<g id="r4-n5"><circle class="np" cx="2474" cy="2446" r="37"/><text class="nl" x="2474" y="2453">5</text></g>
<g id="r4-x"><use href="#YA" x="1799" y="2512"/><text class="yl" transform="translate(1793,2566) rotate(90)">x4</text><use href="#YA" x="2025" y="2512"/><text class="yl" transform="translate(2019,2566) rotate(90)">x5</text></g>
<g id="r4-note1"><path class="yn" d="M1763,2738H2113L2136,2763V2887H1763Z"/><path class="fold" d="M2113,2738V2763H2136Z"/>
<text class="nt" x="1778" y="2784">Update restart state</text><text class="nt" x="1778" y="2809">---------------------------------------------------</text><text class="nt" x="1778" y="2833">(A, j = 4) -&gt; j = 5</text><text class="nt" x="1778" y="2857">(A, x4 = 2) -&gt; x5 = 3 // dfa[A][x4]</text></g>
<g id="r4-note2"><path class="gn" d="M2286,2512H2791L2813,2536V2737H2286Z"/><path class="fold" d="M2791,2512V2536H2813Z"/>
<text class="nt" x="2301" y="2560">已匹配模式串：ABAB</text><text class="nt" x="2301" y="2584">真前缀：ABA , AB , A , λ</text><text class="nt" x="2301" y="2608">真后缀：BAB , AB , B , λ</text><text class="nt" x="2301" y="2632">相同真前后缀：AB , λ</text><text class="nt" x="2301" y="2656">最长相同真前后缀：AB（长度：2，重启状态 x : 2)</text><text class="nt" x="2301" y="2680">ABAB</text><text class="nt" x="2325" y="2704">ABAB</text></g>

<g id="r4-g1">
<use href="#BR" x="2888" y="2315"/>
<text class="lt" x="2852" y="2405">txt</text><text class="lt" x="2852" y="2480">pat</text>
<g transform="translate(2888,2362)">
<use href="#S"/><use href="#S" x="75"/><use href="#S" x="150"/><use href="#S" x="225"/><use href="#SY" x="300"/><use href="#D" x="375"/>
<use href="#B4"/><text class="s" x="337.5" y="32">A</text><text class="i" x="337.5" y="58">i = 4</text>
<text class="dt" x="412.5" y="34">......</text><text class="i" x="412.5" y="58">i = 5</text>
</g>
<g transform="translate(2888,2437)"><use href="#R6"/><use href="#SY" x="300"/><use href="#B4"/><text class="s" x="337.5" y="32">A</text><text class="i" x="337.5" y="58">j = 4</text><text class="s" x="412.5" y="32">C</text><text class="i" x="412.5" y="58">j = 5</text></g>
<text class="lt" x="3187" y="2558">dfa[A][4]</text>
<use href="#UP" x="3300" y="2512"/>
</g>
<g id="r4-g2">
<use href="#BR" x="3788" y="2315"/>
<g transform="translate(3413,2362)">
<use href="#S"/><use href="#S" x="75"/><use href="#SG" x="150"/><use href="#SG" x="225"/><use href="#SY" x="300"/><use href="#D" x="375"/><use href="#D" x="450"/><use href="#D" x="525"/><use href="#D" x="600"/><use href="#D" x="675"/><use href="#D" x="750"/>
<use href="#B4"/><text class="s" x="337.5" y="32">B</text><text class="i" x="337.5" y="58">i = 4</text>
<text class="dt" x="412.5" y="34">......</text><text class="i" x="412.5" y="58">i = 5</text>
</g>
<g transform="translate(3413,2437)"><use href="#R6"/><use href="#SY" x="300"/><use href="#B4"/><text class="s" x="337.5" y="32">A</text><text class="i" x="337.5" y="58">j = 4</text><use href="#T1"/></g>
<text class="lt" x="4125" y="2481">dfa[B][4] = dfa[B][2]</text>
<g transform="translate(3488,2512)"><use href="#R6"/><use href="#B4"/><use href="#T2"/></g>
<rect class="ct" x="3556" y="2594" width="687" height="391" rx="10" fill="#E1BEE7"/>
<g transform="translate(3563,2602)"><use href="#R6"/><use href="#SG"/><use href="#SG" x="75"/><use href="#B4"/><use href="#T2"/></g>
<text class="lt" x="4162" y="2647">dfa[B][2]</text>
<g transform="translate(3638,2677)"><use href="#R6"/><use href="#T6"/></g>
<g transform="translate(3713,2752)"><use href="#R6"/><use href="#T6"/></g>
<g transform="translate(3788,2827)"><use href="#R6"/><use href="#J0"/><use href="#T5"/></g>
<use href="#UP" x="3825" y="2902"/>
</g>
<g id="r4-g3">
<use href="#BR" x="4688" y="2315"/>
<g transform="translate(4313,2362)">
<use href="#S"/><use href="#S" x="75"/><use href="#SG" x="150"/><use href="#SG" x="225"/><use href="#SY" x="300"/><use href="#D" x="375"/><use href="#D" x="450"/><use href="#D" x="525"/><use href="#D" x="600"/><use href="#D" x="675"/><use href="#D" x="750"/>
<use href="#B4"/><text class="s" x="337.5" y="32">C</text><text class="i" x="337.5" y="58">i = 4</text>
<text class="dt" x="412.5" y="34">......</text><text class="i" x="412.5" y="58">i = 5</text>
</g>
<g transform="translate(4313,2437)"><use href="#R6"/><use href="#SY" x="300"/><use href="#B4"/><text class="s" x="337.5" y="32">A</text><text class="i" x="337.5" y="58">j = 4</text><use href="#T1"/></g>
<text class="lt" x="5023" y="2481">dfa[C][4] = dfa[C][2]</text>
<g transform="translate(4388,2512)"><use href="#R6"/><use href="#B4"/><use href="#T2"/></g>
<rect class="ct" x="4456" y="2594" width="687" height="391" rx="10" fill="#E1BEE7"/>
<g transform="translate(4463,2602)"><use href="#R6"/><use href="#SG"/><use href="#SG" x="75"/><use href="#B4"/><use href="#T2"/></g>
<text class="lt" x="5062" y="2647">dfa[C][2]</text>
<g transform="translate(4538,2677)"><use href="#R6"/><use href="#T6"/></g>
<g transform="translate(4613,2752)"><use href="#R6"/><use href="#T6"/></g>
<g transform="translate(4688,2827)"><use href="#R6"/><use href="#J0"/><use href="#T5"/></g>
<use href="#UP" x="4725" y="2902"/>
</g>

<!-- ===== ROW 5 ===== -->
<g id="r5-side"><rect class="side" x="38" y="3113" width="149" height="449"/><path class="tk" d="M38,3113H187M38,3562H187"/><text class="sx r" x="112" y="3332">x = 3</text><text class="sx u" x="112" y="3369">j = 5</text></g>
<g id="r5-table" transform="translate(262,3113)">
<rect width="1050" height="300" fill="#fff"/>
<rect x="900" y="225" width="150" height="75" fill="#E1BEE7"/>
<path class="tl" d="M150,0V300M300,0V300M450,0V300M600,0V300M750,0V300M900,0V300"/>
<path class="tk" d="M0,0H1050M0,75H1050M0,150H1050M0,225H1050M0,300H1050M0,0V300M1050,0V300"/>
<path class="tb" d="M900,75H1050V300H900ZM900,150H1050M900,225H1050"/>
<use href="#CL"/>
<text class="s" x="225" y="32">j = 0</text><text class="s" x="225" y="58">pat[j] = A</text>
<text class="s" x="375" y="32">j = 1</text><text class="s" x="375" y="58">pat[j] = B</text>
<text class="s" x="525" y="32">j = 2</text><text class="s" x="525" y="58">pat[j] = A</text>
<text class="s r" x="675" y="32">j = 3</text><text class="s r" x="675" y="58">pat[j] = B</text>
<text class="s" x="825" y="32">j = 4</text><text class="s" x="825" y="58">pat[j] = A</text>
<text class="s u" x="975" y="32">j = 5</text><text class="s u" x="975" y="58">pat[j] = C</text>
<text class="v" x="225" y="123">1</text><text class="v" x="375" y="123">1</text><text class="v" x="525" y="123">3</text><text class="v r" x="675" y="123">1</text><text class="v" x="825" y="123">5</text><text class="v u" x="975" y="123">1</text>
<text class="v" x="225" y="198">0</text><text class="v" x="375" y="198">2</text><text class="v" x="525" y="198">0</text><text class="v r" x="675" y="198">4</text><text class="v" x="825" y="198">0</text><text class="v u" x="975" y="198">4</text>
<text class="v" x="225" y="273">0</text><text class="v" x="375" y="273">0</text><text class="v" x="525" y="273">0</text><text class="v r" x="675" y="273" text-decoration="underline">0</text><text class="v" x="825" y="273">0</text><text class="v u" x="975" y="273">6</text>
</g>
<text class="bl" x="1314" y="3384">Set match case</text>
<path class="cm" d="M937,3412V3457H1237V3416"/>
<text class="blc" x="1085" y="3467">Copy mismatch cases</text>
<g id="r5-edges">
<path class="eK" d="M1535,3195H1687"/>
<path class="eK" d="M1761,3195H1912"/>
<path class="eK" d="M1986,3195H2137"/>
<path class="eR" d="M2211,3195H2362"/>
<path class="eK" d="M2436,3195H2587"/>
<path class="eB" d="M2661,3195H2812"/>
<path class="eK" d="M1498,3158V3112H1418V3195H1461"/>
<path class="eK" d="M1724,3158V3112H1645V3168H1699"/>
<path class="eR" d="M2174,3158C2174,3060 2110,3060 2032,3095L1757,3177"/>
<path class="eB" d="M2624,3158C2624,2950 2450,2910 2277,2915C2050,2920 1800,3000 1740,3162"/>
<path class="eK" d="M1724,3232C1724,3270 1690,3272 1657,3266C1610,3255 1560,3238 1531,3211"/>
<path class="eK" d="M1949,3232C1949,3330 1850,3355 1770,3350C1640,3340 1540,3300 1520,3226"/>
<path class="eR" d="M2174,3232C2174,3380 2000,3435 1852,3432C1660,3428 1520,3360 1502,3232"/>
<path class="eK" d="M2399,3232C2399,3420 2100,3475 1856,3472C1600,3470 1420,3380 1439,3290C1445,3255 1452,3238 1466,3214"/>
<path class="eB" d="M2624,3232C2624,3280 2590,3287 2548,3281C2500,3272 2450,3255 2425,3222"/>
<text class="el" x="1611" y="3202">A</text>
<text class="el" x="1837" y="3202">B</text>
<text class="el" x="2061" y="3202">A</text>
<text class="el" x="2286" y="3202">B</text>
<text class="el" x="2512" y="3202">A</text>
<text class="eL" x="2736" y="3206">C</text>
<text class="el" x="1418" y="3120">B, C</text>
<text class="el" x="1649" y="3120">A</text>
<text class="el" x="2032" y="3102">A</text>
<text class="el" x="2277" y="2922">A</text>
<text class="el" x="1657" y="3273">C</text>
<text class="el" x="1770" y="3357">B, C</text>
<text class="eL" x="1852" y="3443">C</text>
<text class="el" x="1856" y="3479">B, C</text>
<text class="el" x="2548" y="3288">B</text>
</g>
<g id="r5-n0"><circle class="nd" cx="1498" cy="3195" r="37"/><text class="nl" x="1498" y="3202">0</text></g>
<g id="r5-n1"><circle class="nd" cx="1724" cy="3195" r="37"/><text class="nl" x="1724" y="3202">1</text></g>
<g id="r5-n2"><circle class="nd" cx="1949" cy="3195" r="37"/><text class="nl" x="1949" y="3202">2</text></g>
<g id="r5-n3"><circle class="nd" cx="2174" cy="3195" r="37"/><text class="nl" x="2174" y="3202">3</text></g>
<g id="r5-n4"><circle class="nd" cx="2399" cy="3195" r="37"/><text class="nl" x="2399" y="3202">4</text></g>
<g id="r5-n5"><circle class="nb" cx="2624" cy="3195" r="37"/><text class="nl" x="2624" y="3202">j = 5</text></g>
<g id="r5-n6"><circle class="np" cx="2849" cy="3195" r="37"/><circle cx="2849" cy="3195" r="30" fill="none" stroke="#333" stroke-width="3"/><text class="nl" x="2849" y="3202">6</text></g>
<g id="r5-x"><use href="#YA" x="1498" y="3263"/><text class="yl" transform="translate(1492,3317) rotate(90)">x6</text><use href="#YA" x="2174" y="3263"/><text class="yl" transform="translate(2168,3317) rotate(90)">x5</text></g>
<g id="r5-note1"><path class="yn" d="M1463,3487H1814L1837,3512V3637H1463Z"/><path class="fold" d="M1814,3487V3512H1837Z"/>
<text class="nt" x="1477" y="3535">Update restart state</text><text class="nt" x="1477" y="3560">---------------------------------------------------</text><text class="nt" x="1477" y="3583">(C, j = 5) -&gt; j = 6</text><text class="nt" x="1477" y="3607">(C, x5 = 3) -&gt; x6 = 0 // dfa[C][x5]</text></g>
<g id="r5-note2"><path class="gn" d="M2437,3337H2940L2962,3361V3562H2437Z"/><path class="fold" d="M2940,3337V3361H2962Z"/>
<text class="nt" x="2453" y="3385">已匹配模式串：ABABA</text><text class="nt" x="2453" y="3410">真前缀：ABAB , ABA , AB , A , λ</text><text class="nt" x="2453" y="3434">真后缀：BABA , ABA , BA , A , λ</text><text class="nt" x="2453" y="3457">相同真前后缀：ABA , A , λ</text><text class="nt" x="2453" y="3482">最长相同真前后缀：ABA（长度：3，重启状态 x : 3)</text><text class="nt" x="2453" y="3507">ABABA</text><text class="nt" x="2477" y="3530">ABABA</text></g>

<g id="r5-g1">
<use href="#BR" x="3038" y="3066"/>
<text class="lt" x="3002" y="3156">txt</text><text class="lt" x="3002" y="3231">pat</text>
<g transform="translate(3038,3113)">
<use href="#S"/><use href="#S" x="75"/><use href="#S" x="150"/><use href="#S" x="225"/><use href="#S" x="300"/><use href="#SY" x="375"/>
<use href="#B5"/><text class="s" x="412.5" y="32">C</text><text class="i" x="412.5" y="58">i = 5</text>
</g>
<g transform="translate(3038,3188)"><use href="#R6"/><use href="#SY" x="375"/><use href="#B5"/><text class="s" x="412.5" y="32">C</text><text class="i" x="412.5" y="58">j = 5</text></g>
<use href="#UP" x="3526" y="3263"/>
<text class="lt" x="3411" y="3307">dfa[C][5]</text>
</g>
<g id="r5-g2">
<use href="#BR" x="4013" y="3066"/>
<g transform="translate(3638,3113)">
<use href="#S"/><use href="#S" x="75"/><use href="#SG" x="150"/><use href="#SG" x="225"/><use href="#SG" x="300"/><use href="#SY" x="375"/><use href="#D" x="450"/><use href="#D" x="525"/><use href="#D" x="600"/><use href="#D" x="675"/><use href="#D" x="750"/>
<use href="#B5"/><text class="s" x="412.5" y="32">A</text><text class="i" x="412.5" y="58">i = 5</text>
<text class="dt" x="487.5" y="34">......</text><text class="i" x="487.5" y="58">i = 6</text>
</g>
<g transform="translate(3638,3188)"><use href="#R6"/><use href="#SY" x="375"/><use href="#B5"/><text class="s" x="412.5" y="32">C</text><text class="i" x="412.5" y="58">j = 5</text></g>
<text class="lt" x="4348" y="3233">dfa[A][5] = dfa[A][3]</text>
<g transform="translate(3713,3263)"><use href="#R6"/><use href="#B5"/><use href="#T1"/></g>
<rect class="ct" x="3781" y="3344" width="687" height="391" rx="10" fill="#FFB74D"/>
<g transform="translate(3788,3352)"><use href="#R6"/><use href="#SG"/><use href="#SG" x="75"/><use href="#SG" x="150"/><use href="#B5"/><use href="#T1"/></g>
<text class="lt" x="4387" y="3397">dfa[A][3]</text>
<g transform="translate(3863,3427)"><use href="#R6"/><use href="#T6"/></g>
<g transform="translate(3938,3502)"><use href="#R6"/><use href="#T6"/></g>
<g transform="translate(4013,3577)"><use href="#R6"/><text class="s" x="37.5" y="44">A</text><text class="s" x="112.5" y="32">B</text><text class="i" x="112.5" y="58">j = 1</text><use href="#T4"/></g>
<use href="#UP" x="4125" y="3652"/>
</g>
<g id="r5-g3">
<use href="#BR" x="4688" y="3066"/>
<g transform="translate(4538,3113)">
<use href="#S"/><use href="#S" x="75"/><use href="#SG" x="150"/><use href="#SG" x="225"/><use href="#SG" x="300"/><use href="#SY" x="375"/><use href="#D" x="450"/><use href="#D" x="525"/>
<use href="#B5"/><text class="s" x="412.5" y="32">B</text><text class="i" x="412.5" y="58">i = 5</text>
<text class="dt" x="487.5" y="34">......</text><text class="i" x="487.5" y="58">i = 6</text>
</g>
<g transform="translate(4538,3188)"><use href="#R6"/><use href="#SY" x="375"/><use href="#B5"/><text class="s" x="412.5" y="32">C</text><text class="i" x="412.5" y="58">j = 5</text></g>
<text class="lt" x="5101" y="3233">dfa[B][5] = dfa[B][3]</text>
<g transform="translate(4613,3263)"><use href="#R6"/><use href="#B5"/><use href="#T1"/></g>
<rect class="ct" x="4681" y="3344" width="463" height="166" rx="10" fill="#FFB74D"/>
<g transform="translate(4688,3352)"><use href="#R6"/><use href="#SG"/><use href="#SG" x="75"/><use href="#SG" x="150"/><use href="#B4"/><text x="337.5" y="30" style="font-size:28px;text-anchor:middle;fill:#00f">A</text><text x="337.5" y="66" style="font-size:27px;text-anchor:middle;fill:#00f">j=4</text><use href="#T1"/></g>
<text class="lt" x="4761" y="3472">dfa[B][3]</text>
<use href="#UP" x="5025" y="3427"/>
</g>
</svg>
